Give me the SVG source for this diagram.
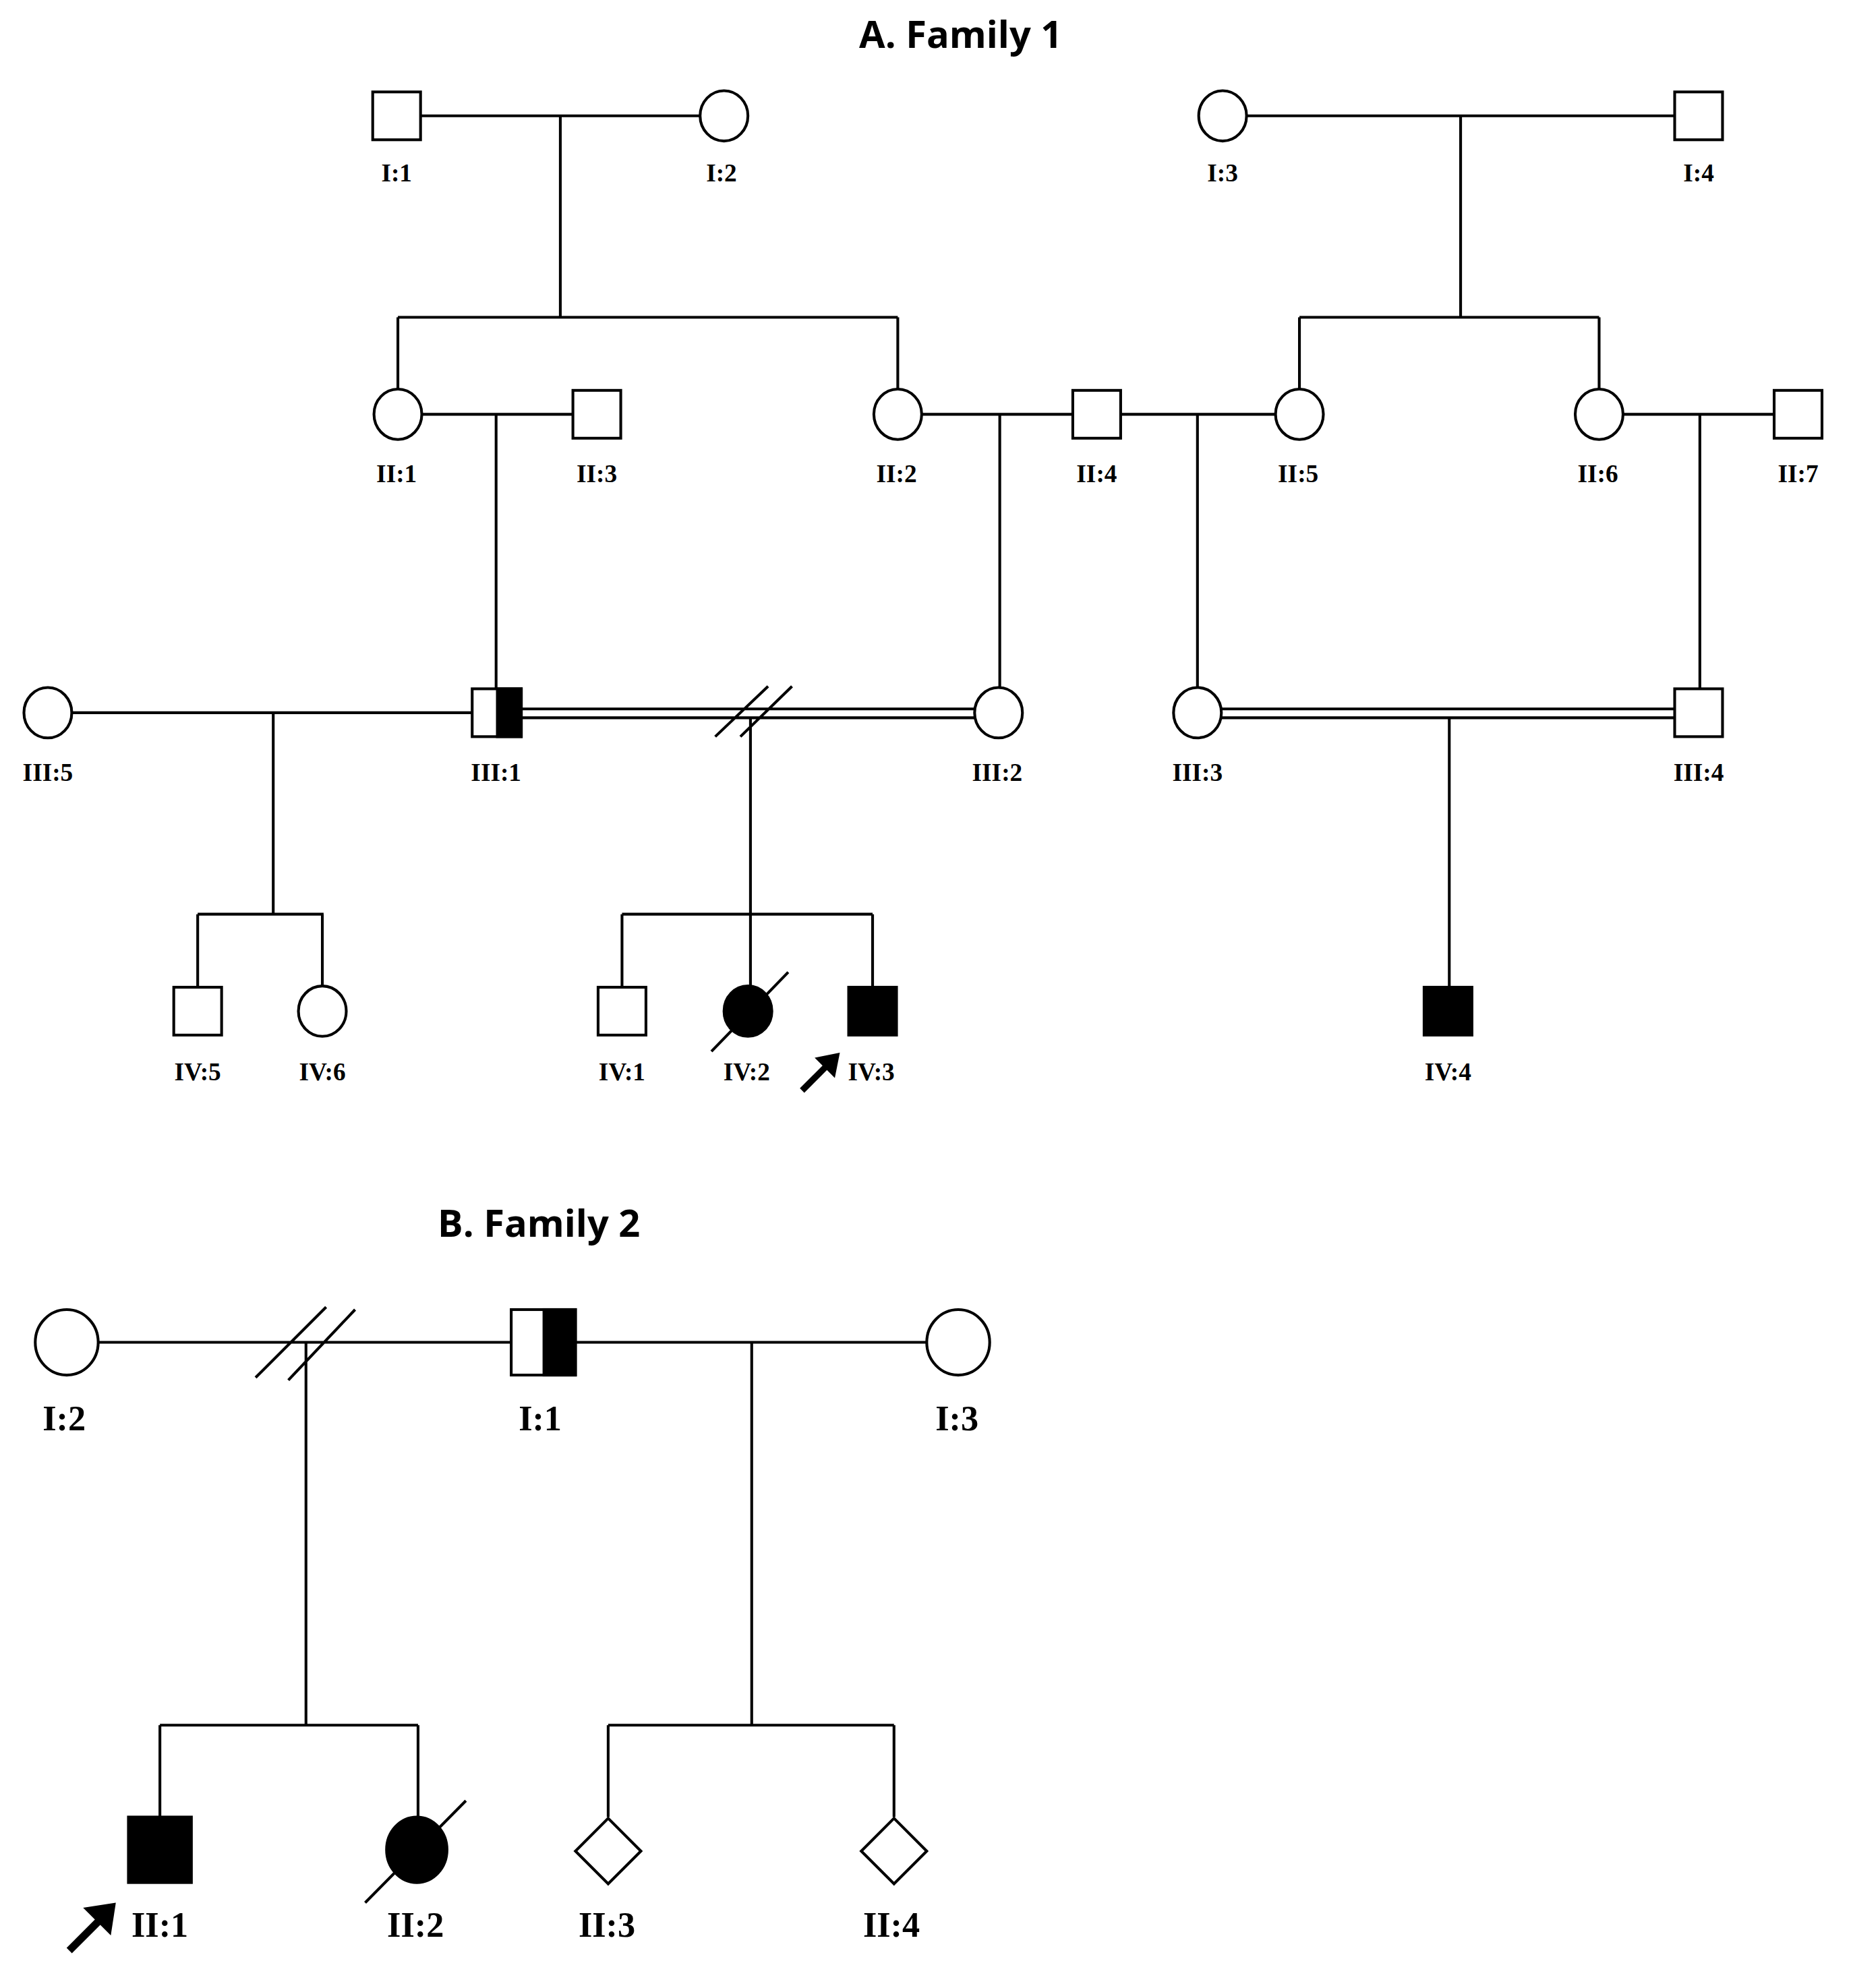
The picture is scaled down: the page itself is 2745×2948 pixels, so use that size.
<svg xmlns="http://www.w3.org/2000/svg" width="2745" height="2948" viewBox="0 0 2745 2948">
<style>
.l{stroke:#000;stroke-width:2.2;fill:none}
.s{stroke:#000;stroke-width:2.2;fill:#fff}
.f{stroke:#000;stroke-width:2.2;fill:#000}
.t{font-family:"Liberation Serif",serif;font-weight:bold;font-size:20px;text-anchor:middle;fill:#000}
.t2{font-family:"Liberation Serif",serif;font-weight:bold;font-size:28px;text-anchor:middle;fill:#000}
.h{font-family:"Open Sans","Liberation Sans",sans-serif;font-weight:bold;font-size:30px;text-anchor:middle;fill:#000}
</style>
<rect width="2745" height="2948" fill="#fff"/>
<g transform="scale(1.8673)">
<text class="h" x="763" y="38">A. Family 1</text>
<text class="h" x="428" y="982">B. Family 2</text>
<g id="connectors">
<path class="l" d="M334 92H556M445 92V252M316 252H713M316 252V310M713 252V310"/>
<path class="l" d="M990 92H1330M1160 92V252M1032 252H1270M1032 252V310M1270 252V310"/>
<path class="l" d="M335 329H455M394 329V547M732 329H852M794 329V547M890 329H1013M951 329V547M1289 329H1409M1350 329V547"/>
<path class="l" d="M57 566H375M217 566V726M157 726H257M157 726V784M256 726V784"/>
<path class="l" d="M414 563H774M414 570H774M596 570V784M494 726H693M494 726V784M693 726V784M568 585L610 545M588 585L629 545"/>
<path class="l" d="M970 563H1330M970 570H1330M1151 570V784"/>
<path class="l" d="M78 1066H406M457 1066H736M203 1094L259 1038M229 1096L282 1040M243 1066V1370M127 1370H332M127 1370V1443M332 1370V1443M597 1066V1370M483 1370H710M483 1370V1443M710 1370V1443"/>
</g>
<g id="I1"><rect class="s" x="296" y="73" width="38" height="38"/><text class="t" x="315" y="144">I:1</text></g>
<g id="I2"><ellipse class="s" cx="575" cy="92" rx="19" ry="20"/><text class="t" x="573" y="144">I:2</text></g>
<g id="I3"><ellipse class="s" cx="971" cy="92" rx="19" ry="20"/><text class="t" x="971" y="144">I:3</text></g>
<g id="I4"><rect class="s" x="1330" y="73" width="38" height="38"/><text class="t" x="1349" y="144">I:4</text></g>
<g id="II1"><ellipse class="s" cx="316" cy="329" rx="19" ry="20"/><text class="t" x="315" y="383">II:1</text></g>
<g id="II3"><rect class="s" x="455" y="310" width="38" height="38"/><text class="t" x="474" y="383">II:3</text></g>
<g id="II2"><ellipse class="s" cx="713" cy="329" rx="19" ry="20"/><text class="t" x="712" y="383">II:2</text></g>
<g id="II4"><rect class="s" x="852" y="310" width="38" height="38"/><text class="t" x="871" y="383">II:4</text></g>
<g id="II5"><ellipse class="s" cx="1032" cy="329" rx="19" ry="20"/><text class="t" x="1031" y="383">II:5</text></g>
<g id="II6"><ellipse class="s" cx="1270" cy="329" rx="19" ry="20"/><text class="t" x="1269" y="383">II:6</text></g>
<g id="II7"><rect class="s" x="1409" y="310" width="38" height="38"/><text class="t" x="1428" y="383">II:7</text></g>
<g id="III5"><ellipse class="s" cx="38" cy="566" rx="19" ry="20"/><text class="t" x="38" y="620">III:5</text></g>
<g id="III1"><rect class="s" x="375" y="547" width="39" height="38"/><rect class="f" x="395" y="547" width="19" height="38"/><text class="t" x="394" y="620">III:1</text></g>
<g id="III2"><ellipse class="s" cx="793" cy="566" rx="19" ry="20"/><text class="t" x="792" y="620">III:2</text></g>
<g id="III3"><ellipse class="s" cx="951" cy="566" rx="19" ry="20"/><text class="t" x="951" y="620">III:3</text></g>
<g id="III4"><rect class="s" x="1330" y="547" width="38" height="38"/><text class="t" x="1349" y="620">III:4</text></g>
<g id="IV5"><rect class="s" x="138" y="784" width="38" height="38"/><text class="t" x="157" y="858">IV:5</text></g>
<g id="IV6"><ellipse class="s" cx="256" cy="803" rx="19" ry="20"/><text class="t" x="256" y="858">IV:6</text></g>
<g id="IV1"><rect class="s" x="475" y="784" width="38" height="38"/><text class="t" x="494" y="858">IV:1</text></g>
<g id="IV2"><ellipse class="f" cx="594" cy="803" rx="19" ry="20"/><path class="l" d="M565 835L626 772"/><text class="t" x="593" y="858">IV:2</text></g>
<g id="IV3"><rect class="f" x="674" y="784" width="38" height="38"/><text class="t" x="692" y="858">IV:3</text><path d="M637 866L657 846" stroke="#000" stroke-width="5"/><polygon points="667,836 663,856 647,840" fill="#000"/></g>
<g id="IV4"><rect class="f" x="1131" y="784" width="38" height="38"/><text class="t" x="1150" y="858">IV:4</text></g>
<g id="F2I2"><ellipse class="s" cx="53" cy="1066" rx="25" ry="26"/><text class="t2" x="51" y="1136">I:2</text></g>
<g id="F2I1"><rect class="s" x="406" y="1040" width="51" height="52"/><rect class="f" x="432" y="1040" width="25" height="52"/><text class="t2" x="429" y="1136">I:1</text></g>
<g id="F2I3"><ellipse class="s" cx="761" cy="1066" rx="25" ry="26"/><text class="t2" x="760" y="1136">I:3</text></g>
<g id="F2II1"><rect class="f" x="102" y="1443" width="50" height="52"/><text class="t2" x="127" y="1538">II:1</text><path d="M55 1549L80 1524" stroke="#000" stroke-width="6"/><polygon points="92,1511 88,1537 66,1515" fill="#000"/></g>
<g id="F2II2"><ellipse class="f" cx="331" cy="1469" rx="24" ry="26"/><path class="l" d="M290 1511L370 1430"/><text class="t2" x="330" y="1538">II:2</text></g>
<g id="F2II3"><polygon class="s" points="483,1444 509,1470 483,1496 457,1470"/><text class="t2" x="482" y="1538">II:3</text></g>
<g id="F2II4"><polygon class="s" points="710,1444 736,1470 710,1496 684,1470"/><text class="t2" x="708" y="1538">II:4</text></g>
</g>
</svg>
